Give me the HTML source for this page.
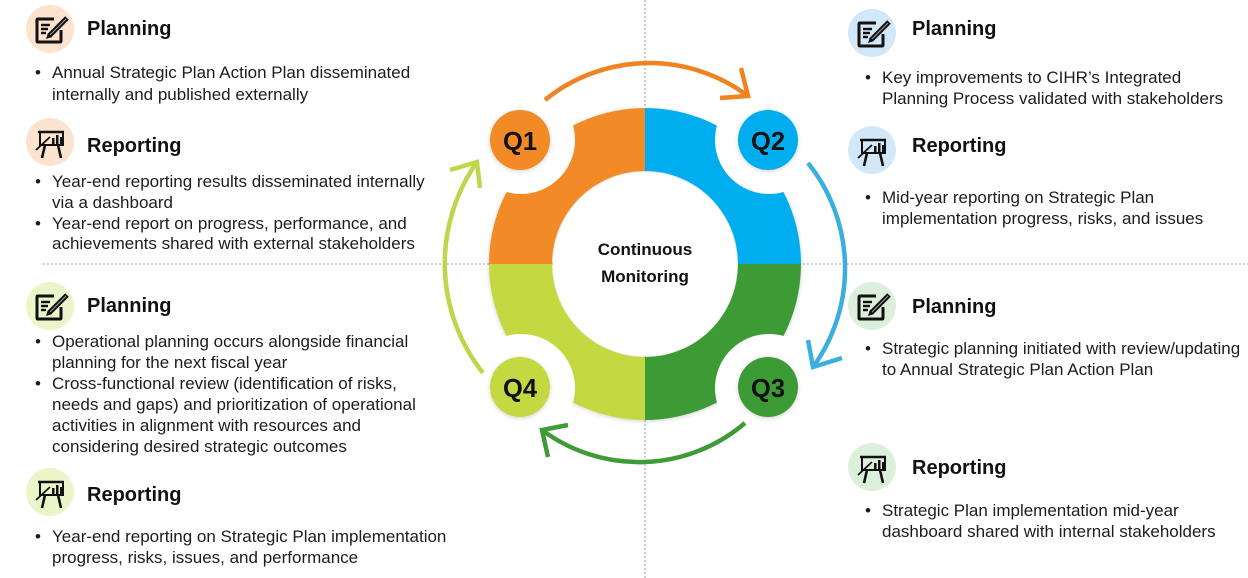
<!DOCTYPE html>
<html>
<head>
<meta charset="utf-8">
<style>
  html,body{margin:0;padding:0;background:#fff;}
  body{width:1248px;height:578px;overflow:hidden;}
  svg{display:block;}
  .t{font-family:"Liberation Sans",Arial,sans-serif;font-size:17px;fill:#1c1c1c;}
  .h{font-family:"Liberation Sans",Arial,sans-serif;font-size:20px;font-weight:bold;fill:#111;}
  .q{font-family:"Liberation Sans",Arial,sans-serif;font-size:26px;font-weight:bold;fill:#111;}
  .c{font-family:"Liberation Sans",Arial,sans-serif;font-size:17px;font-weight:bold;fill:#111;}
</style>
</head>
<body>
<svg width="1248" height="578" viewBox="0 0 1248 578" xmlns="http://www.w3.org/2000/svg">
  <defs>
    <filter id="sh" x="-20%" y="-20%" width="140%" height="140%">
      <feDropShadow dx="0" dy="1" stdDeviation="2" flood-color="#000" flood-opacity="0.18"/>
    </filter>
    <g id="plan">
      <path d="M4,-10 L-12,-10 Q-13,-10 -13,-9 L-13,12 Q-13,13 -12,13 L10,13 Q11,13 11,12 L11,1" fill="none" stroke="#111" stroke-width="3"/>
      <line x1="-9" y1="-4" x2="0" y2="-4" stroke="#111" stroke-width="2.4"/>
      <line x1="-9" y1="0" x2="-2" y2="0" stroke="#111" stroke-width="2.4"/>
      <line x1="-9" y1="4" x2="-4" y2="4" stroke="#111" stroke-width="2.4"/>
      <line x1="-1" y1="7" x2="17" y2="-11" stroke="#111" stroke-width="5"/>
      <line x1="0" y1="6" x2="16" y2="-10" stroke="#fff" stroke-width="1" opacity="0.6"/>
      <path d="M-4,10 L-2,4 L2,8 Z" fill="#111"/>
    </g>
    <g id="rep">
      <line x1="-12" y1="-10" x2="14" y2="-10" stroke="#111" stroke-width="2.6"/>
      <path d="M-10,-10 L-10,3 L13,3 L13,-10" fill="none" stroke="#111" stroke-width="2"/>
      <rect x="2" y="-4" width="2.5" height="6" fill="#111"/>
      <rect x="6" y="-7" width="2.5" height="9" fill="#111"/>
      <rect x="10" y="-5" width="2.5" height="7" fill="#111"/>
      <line x1="-14" y1="8" x2="0" y2="-5" stroke="#111" stroke-width="1.8"/>
      <line x1="-5" y1="3" x2="-8" y2="16" stroke="#111" stroke-width="2.6"/>
      <line x1="8" y1="3" x2="11" y2="16" stroke="#111" stroke-width="2.6"/>
    </g>
  </defs>

  <!-- dotted guides -->
  <line x1="645" y1="0" x2="645" y2="578" stroke="#bdbdbd" stroke-width="1.5" stroke-dasharray="2,2"/>
  <line x1="43" y1="264" x2="1248" y2="264" stroke="#bdbdbd" stroke-width="1.5" stroke-dasharray="2,2"/>

  <!-- ring -->
  <g filter="url(#sh)">
    <path d="M489,264 A156,156 0 0 1 645,108 L645,171 A93,93 0 0 0 552,264 Z" fill="#F28A25"/>
    <path d="M645,108 A156,156 0 0 1 801,264 L738,264 A93,93 0 0 0 645,171 Z" fill="#00AEEF"/>
    <path d="M801,264 A156,156 0 0 1 645,420 L645,357 A93,93 0 0 0 738,264 Z" fill="#3E9B36"/>
    <path d="M645,420 A156,156 0 0 1 489,264 L552,264 A93,93 0 0 0 645,357 Z" fill="#C4D842"/>
  </g>
  <circle cx="645" cy="264" r="92" fill="#fff"/>
  <!-- notches -->
  <circle cx="521" cy="140" r="54" fill="#fff"/>
  <circle cx="769" cy="140" r="54" fill="#fff"/>
  <circle cx="769" cy="388" r="54" fill="#fff"/>
  <circle cx="521" cy="388" r="54" fill="#fff"/>

  <!-- Q badges -->
  <g filter="url(#sh)">
    <circle cx="520" cy="140" r="30" fill="#F28A25"/>
    <circle cx="768" cy="140" r="30" fill="#00AEEF"/>
    <circle cx="768" cy="387" r="30" fill="#3E9B36"/>
    <circle cx="520" cy="387" r="30" fill="#C4D842"/>
  </g>
  <text class="q" x="520" y="150" text-anchor="middle" textLength="34" lengthAdjust="spacingAndGlyphs">Q1</text>
  <text class="q" x="768" y="150" text-anchor="middle" textLength="34" lengthAdjust="spacingAndGlyphs">Q2</text>
  <text class="q" x="768" y="397" text-anchor="middle" textLength="34" lengthAdjust="spacingAndGlyphs">Q3</text>
  <text class="q" x="520" y="397" text-anchor="middle" textLength="34" lengthAdjust="spacingAndGlyphs">Q4</text>

  <text class="c" x="645" y="255" text-anchor="middle">Continuous</text>
  <text class="c" x="645" y="282" text-anchor="middle">Monitoring</text>

  <!-- cycle arrows -->
  <g fill="none" stroke-width="4.5" stroke-linecap="butt" stroke-linejoin="miter">
    <path d="M545,100 A165,165 0 0 1 748,96" stroke="#F0831F"/>
    <polyline points="741,68 748,96 720,98" stroke="#F0831F"/>
    <path d="M808,163 A168,168 0 0 1 813,367" stroke="#3AAEDF"/>
    <polyline points="808,340 813,367 842,358" stroke="#3AAEDF"/>
    <path d="M745,423 A163,163 0 0 1 542,430" stroke="#3E9B36"/>
    <polyline points="568,425 542,430 548,457" stroke="#3E9B36"/>
    <path d="M483,373 A176,176 0 0 1 477,162" stroke="#BED64B"/>
    <polyline points="450,170 477,162 480,188" stroke="#BED64B"/>
  </g>

  <!-- icon circles -->
  <circle cx="50" cy="29" r="24" fill="#FBE3CF"/>
  <circle cx="50" cy="142" r="24" fill="#FBE3CF"/>
  <circle cx="50" cy="306" r="24" fill="#EBF5C9"/>
  <circle cx="50" cy="492" r="24" fill="#EBF5C9"/>
  <circle cx="872" cy="33" r="24" fill="#D2E7F8"/>
  <circle cx="872" cy="150" r="24" fill="#D2E7F8"/>
  <circle cx="872" cy="306" r="24" fill="#DCEFDA"/>
  <circle cx="872" cy="467" r="24" fill="#DCEFDA"/>

  <use href="#plan" x="50" y="29"/>
  <use href="#rep" x="50" y="142"/>
  <use href="#plan" x="50" y="306"/>
  <use href="#rep" x="50" y="492"/>
  <use href="#plan" x="872" y="33"/>
  <use href="#rep" x="872" y="150"/>
  <use href="#plan" x="872" y="306"/>
  <use href="#rep" x="872" y="467"/>

  <!-- left top -->
  <text class="h" x="87" y="35">Planning</text>
  <text class="t" x="35" y="78">•</text>
  <text class="t" x="52" y="78">Annual Strategic Plan Action Plan disseminated</text>
  <text class="t" x="52" y="100">internally and published externally</text>
  <text class="h" x="87" y="152">Reporting</text>
  <text class="t" x="35" y="187">•</text>
  <text class="t" x="52" y="187">Year-end reporting results disseminated internally</text>
  <text class="t" x="52" y="208">via a dashboard</text>
  <text class="t" x="35" y="229">•</text>
  <text class="t" x="52" y="229">Year-end report on progress, performance, and</text>
  <text class="t" x="52" y="249">achievements shared with external stakeholders</text>

  <!-- left bottom -->
  <text class="h" x="87" y="312">Planning</text>
  <text class="t" x="35" y="347">•</text>
  <text class="t" x="52" y="347">Operational planning occurs alongside financial</text>
  <text class="t" x="52" y="368">planning for the next fiscal year</text>
  <text class="t" x="35" y="389">•</text>
  <text class="t" x="52" y="389">Cross-functional review (identification of risks,</text>
  <text class="t" x="52" y="410">needs and gaps) and prioritization of operational</text>
  <text class="t" x="52" y="431">activities in alignment with resources and</text>
  <text class="t" x="52" y="452">considering desired strategic outcomes</text>
  <text class="h" x="87" y="501">Reporting</text>
  <text class="t" x="35" y="542">•</text>
  <text class="t" x="52" y="542">Year-end reporting on Strategic Plan implementation</text>
  <text class="t" x="52" y="563">progress, risks, issues, and performance</text>

  <!-- right top -->
  <text class="h" x="912" y="35">Planning</text>
  <text class="t" x="865" y="83">•</text>
  <text class="t" x="882" y="83">Key improvements to CIHR’s Integrated</text>
  <text class="t" x="882" y="104">Planning Process validated with stakeholders</text>
  <text class="h" x="912" y="152">Reporting</text>
  <text class="t" x="865" y="203">•</text>
  <text class="t" x="882" y="203">Mid-year reporting on Strategic Plan</text>
  <text class="t" x="882" y="224">implementation progress, risks, and issues</text>

  <!-- right bottom -->
  <text class="h" x="912" y="313">Planning</text>
  <text class="t" x="865" y="354">•</text>
  <text class="t" x="882" y="354">Strategic planning initiated with review/updating</text>
  <text class="t" x="882" y="375">to Annual Strategic Plan Action Plan</text>
  <text class="h" x="912" y="474">Reporting</text>
  <text class="t" x="865" y="516">•</text>
  <text class="t" x="882" y="516">Strategic Plan implementation mid-year</text>
  <text class="t" x="882" y="537">dashboard shared with internal stakeholders</text>
</svg>
</body>
</html>
